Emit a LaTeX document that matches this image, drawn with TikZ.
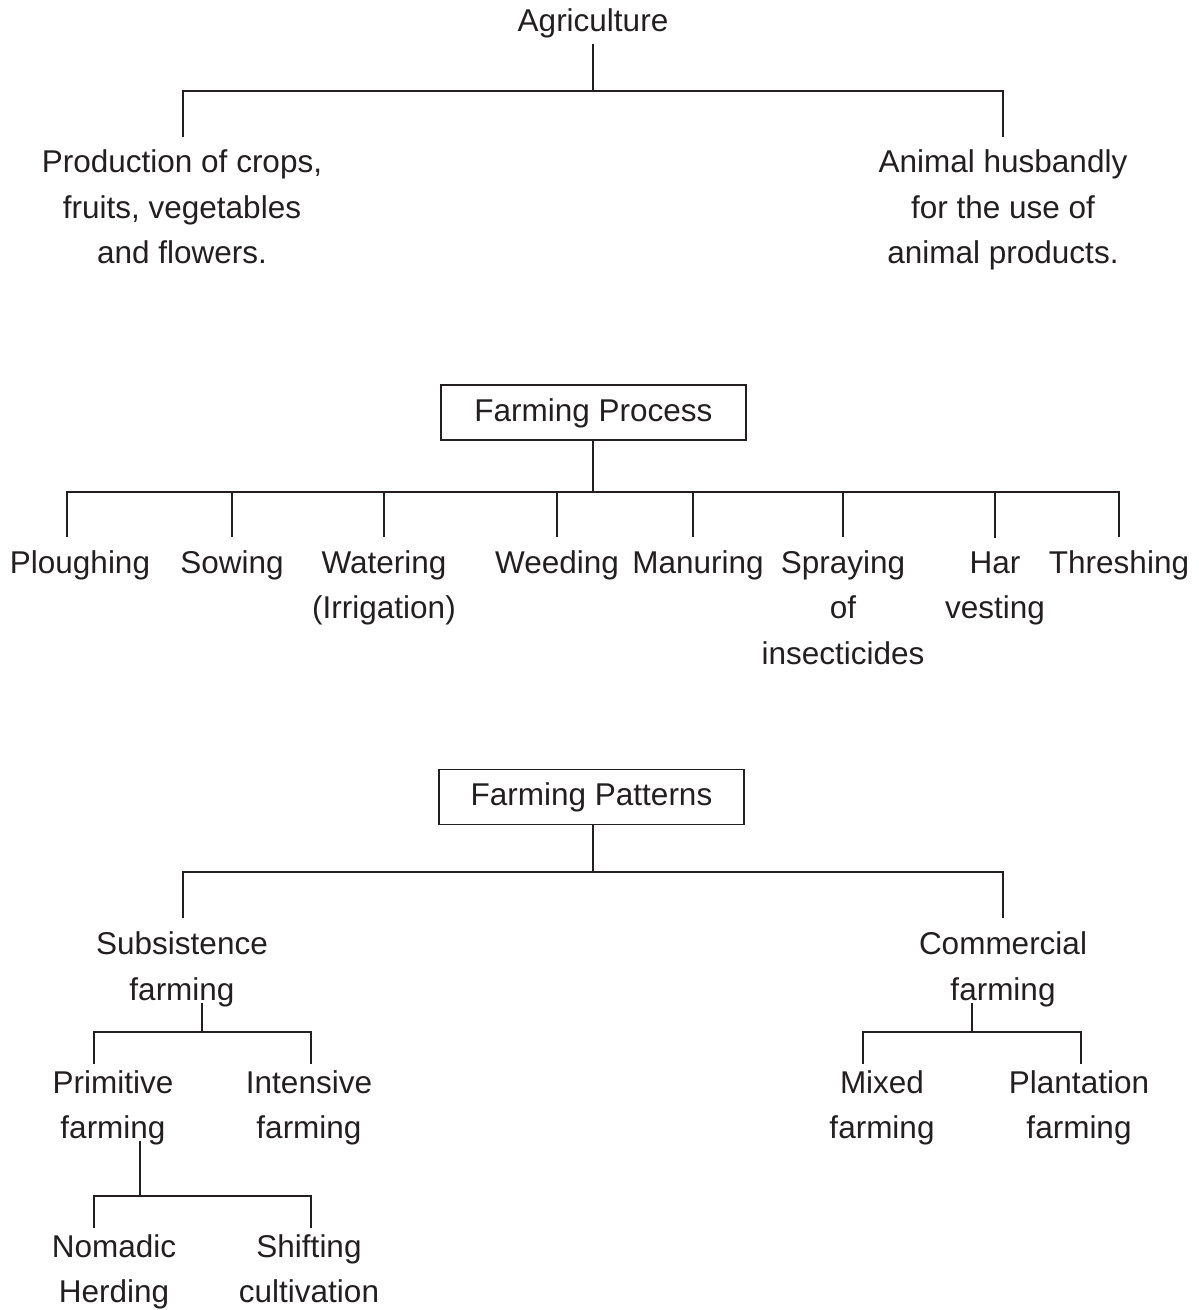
\documentclass[tikz,border=0pt]{standalone}
\usepackage{fontspec}
\setmainfont{Liberation Sans}
\definecolor{ink}{RGB}{35,31,32}
\tikzset{
  lbl/.style={align=center, anchor=base, inner sep=0pt, text=ink,
    font=\fontsize{15.75pt}{22.75pt}\selectfont},
  headbox/.style={draw=ink, line width=0.75pt, inner sep=0pt, text=ink,
    minimum width=152.5pt, minimum height=27.5pt, text height=11.5pt, text depth=3pt,
    font=\fontsize{15.75pt}{22.75pt}\selectfont},
  fork/.style={draw=ink, line width=0.75pt},
  stub/.style={fork, shorten >=6.5pt},
  shortstub/.style={fork, shorten >=3pt},
}
\begin{document}
\begin{tikzpicture}[x=0.5pt, y=-0.5pt]
\useasboundingbox (0,0) rectangle (1198,1310);

% multi-line labels sit on the baseline of their last line
\node[lbl] (agri) at (593,32) {Agriculture};
\node[lbl] (crops) at (182,264) {Production of crops,\\fruits, vegetables\\and flowers.};
\node[lbl] (animal) at (1003,264) {Animal husbandly\\for the use of\\animal products.};
\coordinate (agriJ) at (593,91);

\draw[fork] ([yshift=-6pt]agri.base) -- (agriJ);
\draw[stub] (agriJ) -| ([xshift=0.5pt]crops.north);
\draw[stub] (agriJ) -| (animal.north);

\node[headbox] (fproc) at (593.5,412.5) {Farming Process};
\node[lbl] (plough) at (80,573) {Ploughing};
\node[lbl] (sow) at (232,573) {Sowing};
\node[lbl] (water) at (384,618.5) {Watering\\(Irrigation)};
\node[lbl] (weed) at (557,573) {Weeding};
\node[lbl] (manure) at (698,573) {Manuring};
\node[lbl] (spray) at (843,664) {Spraying\\of\\insecticides};
\node[lbl] (harvest) at (995,618.5) {Har\\vesting};
\node[lbl] (thresh) at (1119,573) {Threshing};
\coordinate (procJ) at (593,492);

\draw[fork] (fproc.south -| procJ) -- (procJ);
\draw[stub] (procJ) -| ([xshift=-6.5pt]plough.north);
\foreach \c in {sow, water, weed, spray, harvest, thresh}
  \draw[stub] (procJ) -| (\c.north);
\draw[stub] (procJ) -| ([xshift=-2.5pt]manure.north);

\node[headbox] (fpat) at (591.5,797) {Farming Patterns};
\node[lbl] (subs) at (182,1000) {Subsistence\\farming};
\node[lbl] (comm) at (1003,1000) {Commercial\\farming};
\coordinate (patJ) at (593,872);

\draw[fork] (fpat.south -| patJ) -- (patJ);
\draw[stub] (patJ) -| ([xshift=0.5pt]subs.north);
\draw[stub] (patJ) -| (comm.north);

\node[lbl] (prim) at (113,1138.5) {Primitive\\farming};
\node[lbl] (intens) at (309,1138.5) {Intensive\\farming};
\coordinate (subsJ) at (202,1032);

\draw[fork] ([yshift=-1.5pt]subs.base -| subsJ) -- (subsJ);
\draw[shortstub] (subsJ) -| ([xshift=-9.5pt]prim.north);
\draw[shortstub] (subsJ) -| ([xshift=1pt]intens.north);

\node[lbl] (nomad) at (114,1302.5) {Nomadic\\Herding};
\node[lbl] (shift) at (309,1302.5) {Shifting\\cultivation};
\coordinate (primJ) at (140,1196);

\draw[fork] ([yshift=-1pt]prim.base -| primJ) -- (primJ);
\draw[shortstub] (primJ) -| ([xshift=-10pt]nomad.north);
\draw[shortstub] (primJ) -| ([xshift=1pt]shift.north);

\node[lbl] (mixed) at (882,1138.5) {Mixed\\farming};
\node[lbl] (plant) at (1079,1138.5) {Plantation\\farming};
\coordinate (commJ) at (972,1032);

\draw[fork] ([yshift=-1.5pt]comm.base -| commJ) -- (commJ);
\draw[shortstub] (commJ) -| ([xshift=-9.5pt]mixed.north);
\draw[shortstub] (commJ) -| ([xshift=1pt]plant.north);
\end{tikzpicture}
\end{document}
